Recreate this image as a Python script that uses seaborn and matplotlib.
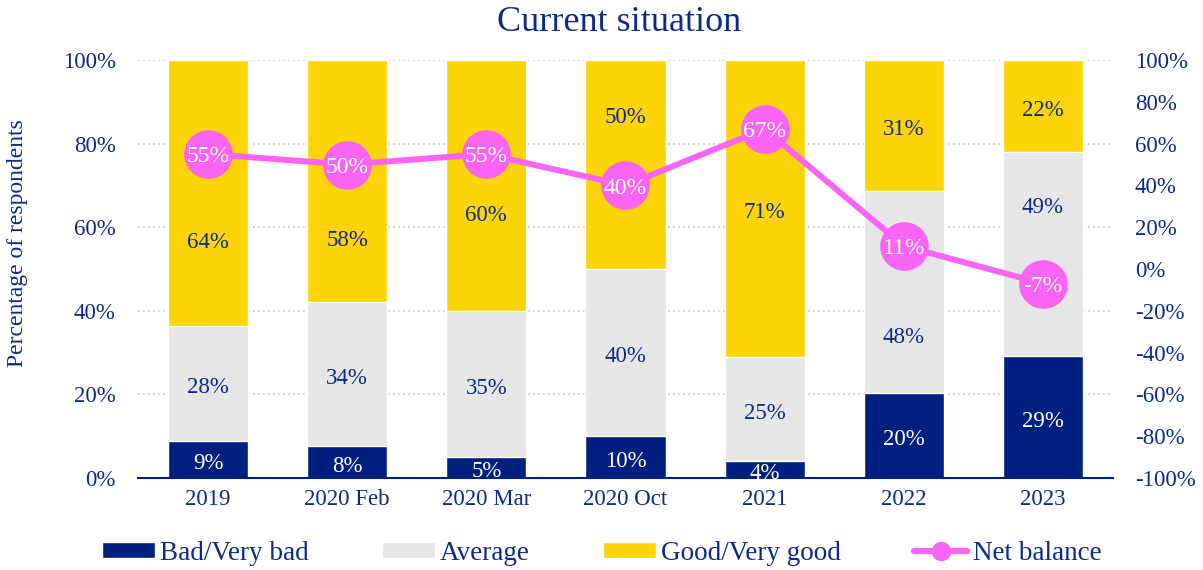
import numpy as np
import pandas as pd
import matplotlib
matplotlib.use("Agg")
import matplotlib.pyplot as plt
import seaborn as sns
from matplotlib.patches import Patch
from matplotlib.lines import Line2D

categories = ["2019", "2020 Feb", "2020 Mar", "2020 Oct", "2021", "2022", "2023"]
bad = [8.8, 7.7, 5.0, 10.0, 4.1, 20.3, 29.2]
average = [27.6, 34.3, 35.0, 40.0, 24.8, 48.4, 48.8]
good = [63.6, 58.0, 60.0, 50.0, 71.1, 31.3, 22.0]
net_balance = [55, 50, 55, 40, 67, 11, -7]

# label spots that were moved off the net balance markers (None = centred)
good_label_y = [57.4, 57.7, 63.7, 87.3, None, None, None]
avg_label_y = [None, None, None, None, None, 34.7, 65.6]

NAVY = "#00207F"
GREY = "#E6E6E6"
YELLOW = "#FDD406"
PINK = "#FA64F5"
TXT = "#0D2A8A"
FS = 16.5

sns.set_theme(style="white")
plt.rcParams["font.family"] = ["Liberation Serif", "DejaVu Serif"]

df = pd.DataFrame({"cat": categories, "bad": bad, "avg": average, "good": good})
df["top_avg"] = df["bad"] + df["avg"]
df["top_good"] = df["top_avg"] + df["good"]

fig = plt.figure(figsize=(12.03, 5.70), dpi=100)
ax = fig.add_axes([0.1151, 0.1614, 0.8097, 0.7333])

w = 0.575
sns.barplot(data=df, x="cat", y="top_good", color=YELLOW, width=w, saturation=1, ax=ax, zorder=2)
sns.barplot(data=df, x="cat", y="top_avg", color=GREY, width=w, saturation=1, ax=ax, zorder=2)
sns.barplot(data=df, x="cat", y="bad", color=NAVY, width=w, saturation=1, ax=ax, zorder=2)

ax.set_ylim(0, 100)
ax.set_xlim(-0.5, len(categories) - 0.5)
ax.set_yticks(range(0, 101, 20))
ax.set_yticklabels([f"{v}%" for v in range(0, 101, 20)])
ax.set_xlabel("")
ax.set_ylabel("Percentage of respondents", color=TXT, fontsize=17)
ax.yaxis.set_label_coords(-0.1135, 0.562)
ax.yaxis.grid(True, linestyle=(0, (1, 2)), color="#C8C8C8", linewidth=1.2, zorder=0)
ax.set_axisbelow(True)
for s in ["top", "left", "right"]:
    ax.spines[s].set_visible(False)
ax.spines["bottom"].set_color(NAVY)
ax.spines["bottom"].set_linewidth(1.5)
ax.tick_params(axis="both", length=0, labelsize=FS, labelcolor=TXT, pad=8)
ax.tick_params(axis="y", pad=16.5)


def seg_label(axis, x, y, txt, color, size=FS, dy=-3):
    axis.annotate(txt, (x, y), xytext=(0, dy), textcoords="offset points",
                  ha="center", va="center", color=color, fontsize=size, zorder=6)


for i in range(len(categories)):
    b, a, g = bad[i], average[i], good[i]
    seg_label(ax, i, b / 2, f"{round(b)}%", "white")
    ay = avg_label_y[i] if avg_label_y[i] is not None else b + a / 2
    seg_label(ax, i, ay, f"{round(a)}%", TXT)
    gy = good_label_y[i] if good_label_y[i] is not None else b + a + g / 2
    seg_label(ax, i, gy, f"{round(g)}%", TXT)

ax2 = ax.twinx()
sns.lineplot(x=np.arange(len(categories)), y=net_balance, ax=ax2, color=PINK,
             linewidth=4.3, marker="o", markersize=35, markeredgewidth=0, zorder=4)
ax2.set_ylim(-100, 100)
ax2.set_yticks(range(-100, 101, 20))
ax2.set_yticklabels([f"{v}%" for v in range(-100, 101, 20)])
ax2.tick_params(axis="y", length=0, labelsize=FS, labelcolor=TXT, pad=16)
for s in ["top", "left", "right", "bottom"]:
    ax2.spines[s].set_visible(False)
for i, v in enumerate(net_balance):
    seg_label(ax2, i, v, f"{v}%", "white", size=17, dy=-2)

fig.suptitle("Current situation", x=0.515, y=0.99, color=TXT, fontsize=26, va="top")

handles = [
    Patch(facecolor=NAVY, label="Bad/Very bad"),
    Patch(facecolor=GREY, label="Average"),
    Patch(facecolor=YELLOW, label="Good/Very good"),
    Line2D([0], [0], color=PINK, linewidth=4.5, marker="o", markersize=13, label="Net balance"),
]
leg = fig.legend(handles=handles, loc="center", bbox_to_anchor=(0.5, 1 - 553 / 570), ncol=4,
                 frameon=False, fontsize=19.5, handlelength=1.95, handleheight=0.52,
                 handletextpad=0.2, columnspacing=2.7, borderpad=0)
for t in leg.get_texts():
    t.set_color(TXT)

fig.savefig("out.png", dpi=100)
